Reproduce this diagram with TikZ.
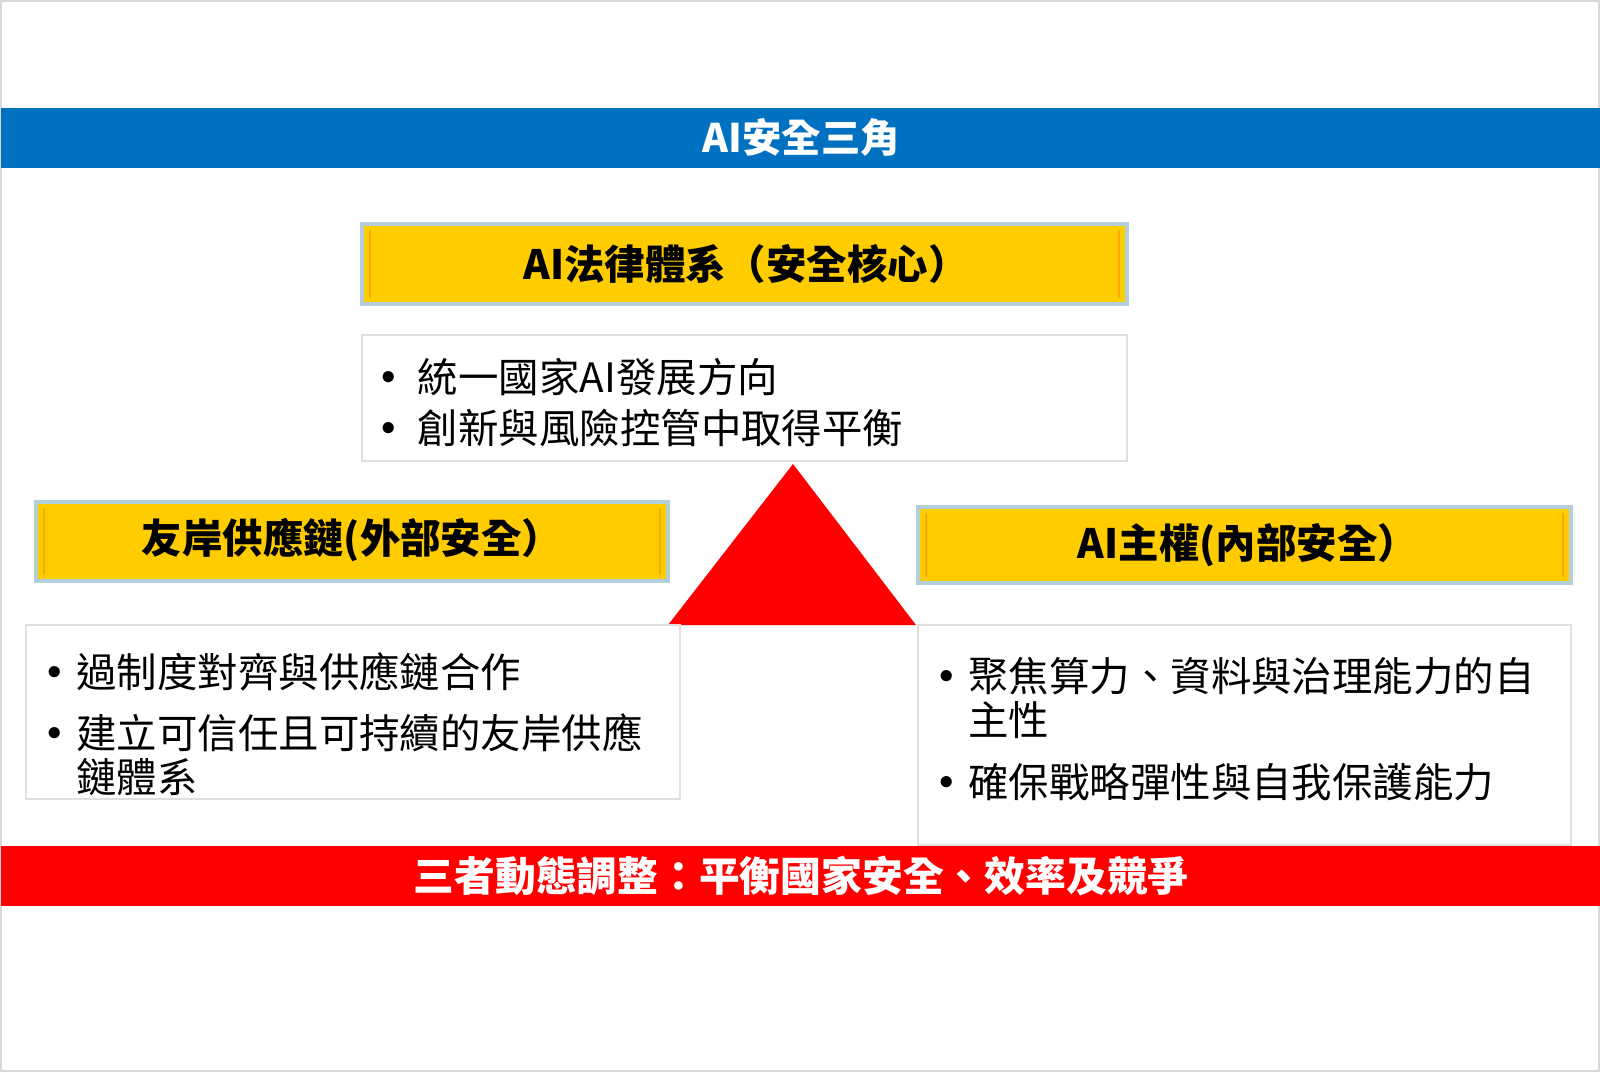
\documentclass[tikz,border=0pt]{standalone}
\usepackage{fontspec}
\setmainfont{Noto Sans CJK TC}
\tikzset{
  bar/.style={minimum width=16cm, minimum height=0.6cm, inner sep=0pt, text=white, font=\fontsize{11.2}{12}\selectfont\bfseries},
  headbox/.style={draw=cyan!40!gray!50, fill=headyellow, line width=1pt, inner sep=0pt},
  headtext/.style={font=\fontsize{11.5}{12}\selectfont\bfseries},
  listbox/.style={draw=gray!25, fill=white, line width=0.8pt, inner sep=0pt}
}
\definecolor{barblue}{RGB}{0,112,192}
\definecolor{barred}{RGB}{255,0,0}
\definecolor{headyellow}{RGB}{255,204,0}
\newcommand{\bul}{\makebox[0.42cm][l]{\textbf{•}}}
\begin{document}
\begin{tikzpicture}[x=0.01cm,y=-0.01cm]
\useasboundingbox (0,0) rectangle (1600,1072);
\draw[gray!30] (1,1) rectangle (1599,1071);
% bars
\node[bar, fill=barblue, anchor=north west] (title) at (0,107) {AI安全三角};
\node[bar, fill=barred, anchor=north west, font=\fontsize{11.6}{12}\selectfont\bfseries] (bottom) at (0,845) {三者動態調整：平衡國家安全、效率及競爭};
% triangle
\fill[barred] (793,464) -- (916,625) -- (668,625) -- cycle;
% top
\draw[headbox] (362,224) rectangle (1127,304);
\draw[orange!70!yellow, line width=0.6pt] (370,230) -- (370,298) (1119,230) -- (1119,298);
\node[headtext] (lawhead) at (746,264) {AI法律體系（安全核心）};
\draw[listbox] (362,335) rectangle (1127,461);
\node[anchor=north west, align=left, font=\fontsize{11.5}{14.5}\selectfont] (lawlist) at (356,346)
  {\textbf{•} 統一國家AI發展方向\\\textbf{•} 創新與風險控管中取得平衡};
% left
\draw[headbox] (36,502) rectangle (668,581);
\draw[orange!70!yellow, line width=0.6pt] (44,508) -- (44,575) (660,508) -- (660,575);
\node[headtext] (allyhead) at (352,540) {友岸供應鏈(外部安全）};
\draw[listbox] (26,625) rectangle (680,799);
\node[anchor=north west, align=left, font=\fontsize{11.5}{12.5}\selectfont] (allylist) at (22,640)
  {\bul 過制度對齊與供應鏈合作\\[5pt]\bul 建立可信任且可持續的友岸供應\\\hspace*{0.42cm}鏈體系};
% right
\draw[headbox] (918,507) rectangle (1571,583);
\draw[orange!70!yellow, line width=0.6pt] (926,513) -- (926,577) (1563,513) -- (1563,577);
\node[headtext] (sovhead) at (1248,545) {AI主權(內部安全）};
\draw[listbox] (918,625) rectangle (1571,845);
\node[anchor=north west, align=left, font=\fontsize{11.5}{12.5}\selectfont] (sovlist) at (914,645)
  {\bul 聚焦算力、資料與治理能力的自\\\hspace*{0.42cm}主性\\[5pt]\bul 確保戰略彈性與自我保護能力};
\end{tikzpicture}
\end{document}
